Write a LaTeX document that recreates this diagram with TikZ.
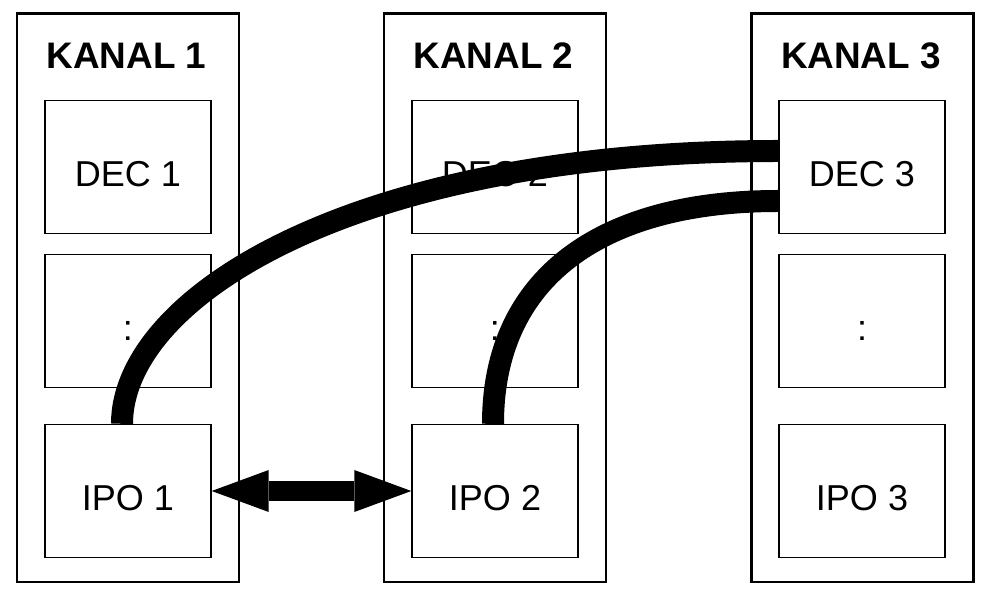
\documentclass[tikz,border=0pt]{standalone}
\usepackage{fontspec}
\setmainfont{Liberation Sans}
\usetikzlibrary{arrows.meta}

\begin{document}
\begin{tikzpicture}[
	channel/.style={shape=rectangle,draw=black,line width=1.7pt,minimum width=4.44cm,minimum height=11.36cm},
	title/.style={font=\fontsize{21}{25}\selectfont\bfseries,text height=15pt,text depth=0pt,inner sep=0pt},
	unit/.style={shape=rectangle,draw=black,line width=0.8pt,minimum width=3.32cm,minimum height=2.66cm,
		font=\fontsize{20.5}{24}\selectfont,text height=22pt,text depth=0pt,inner sep=0pt},
	cable/.style={line width=0.44cm},
	link/.style={line width=0.4cm,{Triangle[length=1.14cm,width=0.84cm,line width=0pt]}-{Triangle[length=1.14cm,width=0.84cm,line width=0pt]}}
	]
	
	\useasboundingbox (0, 0) rectangle (19.82, -12.02);
	
	\node[channel] (k1) at (2.56, -5.96)  {};
	\node[channel] (k2) at (9.9, -5.96)   {};
	\node[channel] (k3) at (17.25, -5.96) {};
	
	\node[title] (t1) at (2.53, -1.11)  {KANAL 1};
	\node[title] (t2) at (9.87, -1.11)  {KANAL 2};
	\node[title] (t3) at (17.22, -1.11) {KANAL 3};
	
	\node[unit] (dec1) at (2.56, -3.34)  {DEC 1};
	\node[unit] (dec2) at (9.9, -3.34)   {DEC 2};
	\node[unit] (dec3) at (17.24, -3.34) {DEC 3};
	\node[unit] (mid1) at (2.56, -6.42)  {:};
	\node[unit] (mid2) at (9.9, -6.42)   {:};
	\node[unit] (mid3) at (17.24, -6.42) {:};
	\node[unit] (ipo1) at (2.56, -9.82)  {IPO 1};
	\node[unit] (ipo2) at (9.9, -9.82)   {IPO 2};
	\node[unit] (ipo3) at (17.24, -9.82) {IPO 3};
	
	\draw[cable] ([xshift=-0.12cm]ipo1.north) .. controls +(0, 2.5) and +(-8.58, 0) .. ([yshift=0.32cm]dec3.west);
	\draw[cable] ([xshift=-0.04cm]ipo2.north) .. controls +(0, 2.9) and +(-3.58, 0) .. ([yshift=-0.68cm]dec3.west);
	
	\path[link] (ipo1.east) edge (ipo2.west);

\end{tikzpicture}
\end{document}
